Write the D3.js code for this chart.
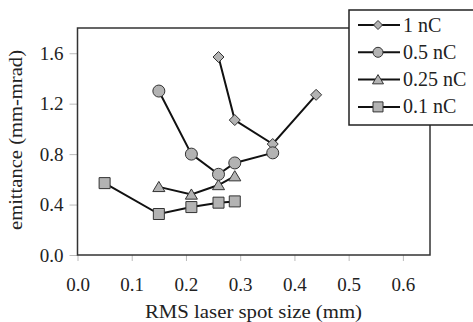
<!DOCTYPE html>
<html>
<head>
<meta charset="utf-8">
<script src="https://cdn.jsdelivr.net/npm/d3@7"></script>
<style>
  body { margin: 0; background: #fff; }
  svg { display: block; }
  text { font-family: "Liberation Serif", "DejaVu Serif", serif; fill: #222; }
</style>
</head>
<body>
<div id="chart"></div>
<script>
// series data: x = RMS laser spot size (mm), y = emittance (mm-mrad)
var seriesNames = ["1 nC", "0.5 nC", "0.25 nC", "0.1 nC"];
var symbols = ["diamond", "circle", "triangle", "square"];
var x1nC = [0.26, 0.29, 0.36, 0.44];
var y1nC = [1.57, 1.07, 0.88, 1.27];
var x05nC = [0.15, 0.21, 0.26, 0.29, 0.36];
var y05nC = [1.30, 0.80, 0.64, 0.73, 0.81];
var x025nC = [0.15, 0.21, 0.26, 0.29];
var y025nC = [0.54, 0.48, 0.555, 0.625];
var x01nC = [0.05, 0.15, 0.21, 0.26, 0.29];
var y01nC = [0.57, 0.325, 0.38, 0.415, 0.425];
var xTicks = [0, 0.1, 0.2, 0.3, 0.4, 0.5, 0.6];
var yTicks = [0, 0.4, 0.8, 1.2, 1.6];

var width = 473, height = 322;
var margin = {top: 28, right: 43, bottom: 67, left: 77.5};

var svg = d3.select("#chart").append("svg")
  .attr("width", width)
  .attr("height", height);

var x = d3.scaleLinear().domain([0, 0.65]).range([margin.left, width - margin.right]);
var y = d3.scaleLinear().domain([0, 1.8]).range([height - margin.bottom, margin.top]);

function zip(xs, ys) { return xs.map(function(v, i) { return {x: v, y: ys[i]}; }); }
var series = [
  {name: seriesNames[0], sym: symbols[0], pts: zip(x1nC, y1nC)},
  {name: seriesNames[1], sym: symbols[1], pts: zip(x05nC, y05nC)},
  {name: seriesNames[2], sym: symbols[2], pts: zip(x025nC, y025nC)},
  {name: seriesNames[3], sym: symbols[3], pts: zip(x01nC, y01nC)}
];

// marker path, centered at 0,0
function markerPath(sym, s) {
  if (sym == "diamond") return "M0," + (-s) + "L" + s + ",0L0," + s + "L" + (-s) + ",0Z";
  if (sym == "square") return "M" + (-s) + "," + (-s) + "h" + (2*s) + "v" + (2*s) + "h" + (-2*s) + "Z";
  return "M0," + (-s) + "L" + (s*1.1) + "," + (s*0.85) + "L" + (-s*1.1) + "," + (s*0.85) + "Z";
}
function drawMarker(g, sym, cx, cy, s) {
  if (sym == "circle") {
    g.append("circle").attr("cx", cx).attr("cy", cy).attr("r", s)
      .attr("fill", "#b3b3b3").attr("stroke", "#333").attr("stroke-width", 1);
  } else {
    g.append("path").attr("d", markerPath(sym, s))
      .attr("transform", "translate(" + cx + "," + cy + ")")
      .attr("fill", "#b3b3b3").attr("stroke", "#333").attr("stroke-width", 1);
  }
}

// axes (ticks only, frame drawn separately)
var xAxis = svg.append("g")
  .attr("transform", "translate(0," + y(0) + ")")
  .call(d3.axisBottom(x).tickValues(xTicks).tickFormat(d3.format(".1f")).tickSize(6).tickPadding(17));
var yAxis = svg.append("g")
  .attr("transform", "translate(" + x(0) + ",0)")
  .call(d3.axisLeft(y).tickValues(yTicks).tickFormat(d3.format(".1f")).tickSize(8).tickPadding(6));
[xAxis, yAxis].forEach(function(a) {
  a.select(".domain").remove();
  a.selectAll(".tick line").attr("stroke", "#bbb");
  a.selectAll(".tick text").style("font-family", "Liberation Serif").style("font-size", "19px").attr("fill", "#222");
});

// plot frame
svg.append("rect")
  .attr("x", x(0)).attr("y", y(1.8))
  .attr("width", x(0.65) - x(0)).attr("height", y(0) - y(1.8))
  .attr("fill", "none").attr("stroke", "#333").attr("stroke-width", 1.5);

// lines
var line = d3.line().x(function(d) { return x(d.x); }).y(function(d) { return y(d.y); });
series.forEach(function(s) {
  svg.append("path").datum(s.pts).attr("d", line)
    .attr("fill", "none").attr("stroke", "#111").attr("stroke-width", 2);
});

// markers; circles end up on top
var sizes = {diamond: 5.5, circle: 6, triangle: 5.5, square: 5.5};
[0, 2, 3, 1].forEach(function(i) {
  var s = series[i];
  var g = svg.append("g");
  s.pts.forEach(function(d) { drawMarker(g, s.sym, x(d.x), y(d.y), sizes[s.sym]); });
});

// axis titles (source font is a bit wider than Times, so stretch)
svg.append("text")
  .attr("x", 145).attr("y", 318)
  .attr("textLength", 217).attr("lengthAdjust", "spacingAndGlyphs")
  .style("font-size", "19px")
  .text("RMS laser spot size (mm)");
svg.append("text")
  .attr("transform", "translate(22,230) rotate(-90)")
  .attr("textLength", 180).attr("lengthAdjust", "spacingAndGlyphs")
  .style("font-size", "19px")
  .text("emittance (mm-mrad)");

// legend
var legend = svg.append("g").attr("transform", "translate(349,10)");
legend.append("rect").attr("x", 0).attr("y", 0).attr("width", 140).attr("height", 115)
  .attr("fill", "#fff").attr("stroke", "#222").attr("stroke-width", 1.5);
var legSizes = {diamond: 4.5, circle: 5, triangle: 5, square: 5};
series.forEach(function(s, i) {
  var ly = 15 + i * 27.3;
  legend.append("line").attr("x1", 9).attr("x2", 51).attr("y1", ly).attr("y2", ly)
    .attr("stroke", "#111").attr("stroke-width", 2);
  drawMarker(legend, s.sym, 29, ly, legSizes[s.sym]);
  legend.append("text").attr("x", 54).attr("y", ly + 6.5)
    .style("font-size", "20px").text(s.name);
});
</script>
</body>
</html>
